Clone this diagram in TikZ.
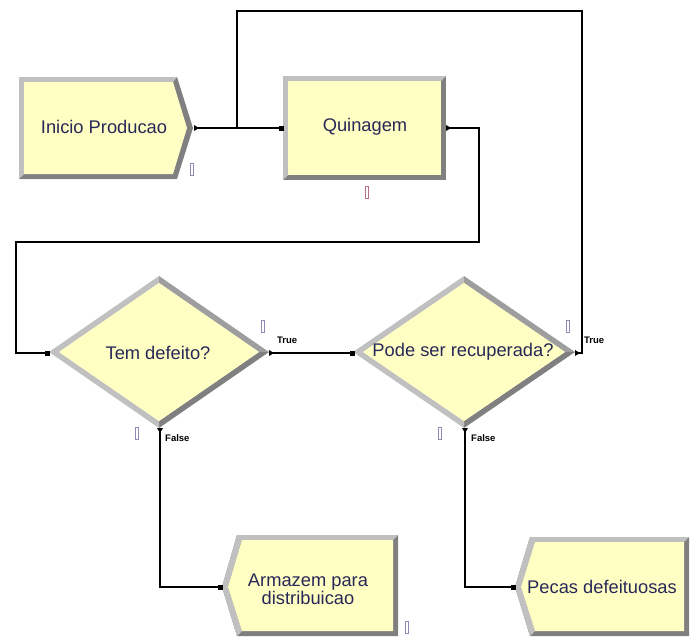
\documentclass[tikz,border=0pt]{standalone}
\usepackage{fontspec}
\setmainfont{Liberation Sans}
\begin{document}
\begin{tikzpicture}[x=1pt,y=-1pt]
\definecolor{modfill}{RGB}{255,255,196}
\definecolor{bevlight}{RGB}{192,192,192}
\definecolor{bevmid}{RGB}{158,158,158}
\definecolor{bevdark}{RGB}{128,128,128}
\definecolor{labelink}{RGB}{40,40,88}
\definecolor{cntblue}{RGB}{140,140,185}
\definecolor{cntred}{RGB}{185,110,125}
\tikzset{
  modtext/.style={text=labelink, font=\fontsize{18.3}{15.5}\selectfont, inner sep=0pt, align=center},
  brtext/.style={font=\bfseries\fontsize{9.5}{10}\selectfont, inner sep=0pt, anchor=west},
  conn/.style={draw=black, line width=1.3pt},
  entrypt/.style={rectangle, fill=black, minimum size=5pt, inner sep=0pt},
  counter/.style={rectangle, draw=#1, line width=0.9pt, fill=white, minimum width=3pt, minimum height=12pt, inner sep=0pt},
}
\useasboundingbox (0,0) rectangle (694,637);

% ---------- Create module: Inicio Producao ----------
\fill[bevdark] (19,77) -- (177,77) -- (193,128) -- (177,179) -- (19,179) -- cycle;
\fill[bevlight] (19,179) -- (19,77) -- (177,77) -- (173,82) -- (24,82) -- (24,174) -- cycle;
\fill[modfill] (24,82) -- (173,82) -- (187,128) -- (173,174) -- (24,174) -- cycle;
\node[modtext] (inicio) at (104,127) {Inicio Producao};
\node[counter=cntblue] (cntInicio) at (192,169) {};

% ---------- Process module: Quinagem ----------
\fill[bevdark] (283,76) rectangle (446,180);
\fill[bevlight] (283,180) -- (283,76) -- (446,76) -- (441,81) -- (288,81) -- (288,175) -- cycle;
\fill[modfill] (288,81) rectangle (441,175);
\node[modtext] (quinagem) at (365,127) {Quinagem};
\node[counter=cntred] (cntQuinagem) at (367,192) {};

% ---------- Decide modules ----------
\newcommand\decideshape[4]{% cx, cy, half width, half height
  \fill[bevlight] (#1-#3,#2) -- (#1,#2-#4) -- (#1,#2-#4+7) -- (#1-#3+10,#2) -- cycle;
  \fill[bevmid]   (#1,#2-#4) -- (#1+#3,#2) -- (#1+#3-10,#2) -- (#1,#2-#4+7) -- cycle;
  \fill[bevdark]  (#1+#3,#2) -- (#1,#2+#4) -- (#1,#2+#4-7) -- (#1+#3-10,#2) -- cycle;
  \fill[bevlight] (#1,#2+#4) -- (#1-#3,#2) -- (#1-#3+10,#2) -- (#1,#2+#4-7) -- cycle;
  \fill[modfill]  (#1-#3+10,#2) -- (#1,#2-#4+7) -- (#1+#3-10,#2) -- (#1,#2+#4-7) -- cycle;
}
\decideshape{159}{352}{110}{76}
\node[modtext] (temdefeito) at (158,353) {Tem defeito?};
\node[counter=cntblue] (cntTemT) at (263,326) {};
\node[counter=cntblue] (cntTemF) at (137,433) {};

\decideshape{464}{352}{111}{76}
\node[modtext] (pode) at (463,352) {Pode ser recuperada?};
\node[counter=cntblue] (cntPodeT) at (568,326) {};
\node[counter=cntblue] (cntPodeF) at (440,433) {};

% ---------- Dispose modules ----------
\fill[bevdark] (237,535) -- (398,535) -- (398,636) -- (237,636) -- (222,587) -- cycle;
\fill[bevlight] (237,636) -- (222,587) -- (237,535) -- (398,535) -- (393,540) -- (242,540) -- (228,587) -- (242,631) -- cycle;
\fill[modfill] (242,540) -- (393,540) -- (393,631) -- (242,631) -- (228,587) -- cycle;
\node[modtext] (armazem) at (308,589) {Armazem para\\distribuicao};
\node[counter=cntblue] (cntArmazem) at (407,627) {};

\fill[bevdark] (530,537) -- (689,537) -- (689,636) -- (530,636) -- (515,587) -- cycle;
\fill[bevlight] (530,636) -- (515,587) -- (530,537) -- (689,537) -- (684,542) -- (535,542) -- (521,587) -- (535,631) -- cycle;
\fill[modfill] (535,542) -- (684,542) -- (684,631) -- (535,631) -- (521,587) -- cycle;
\node[modtext] (pecas) at (602,587) {Pecas defeituosas};

% ---------- Ports ----------
\coordinate (inicioOut) at (196,128);
\coordinate (quinIn) at (281,128);
\coordinate (quinOut) at (448,128);
\coordinate (temIn) at (47,353);
\coordinate (temTrue) at (271,353);
\coordinate (temFalse) at (160,430);
\coordinate (podeIn) at (352,353);
\coordinate (podeTrue) at (577,353);
\coordinate (podeFalse) at (465,430);
\coordinate (armIn) at (220,587);
\coordinate (pecIn) at (513,587);
\coordinate (split) at (237,128);

% ---------- Connectors ----------
\draw[conn] (inicioOut) -- (quinIn);
\draw[conn] (quinOut) -- (479,128) -- (479,242) -- (16,242) -- (16,353) -- (temIn);
\draw[conn] (temTrue) -- (podeIn);
\draw[conn] (podeTrue) -- (582,353) -- (582,11) -- (237,11) -- (split);
\draw[conn] (temFalse) |- (armIn);
\draw[conn] (podeFalse) |- (pecIn);

% entry points
\node[entrypt] (pIn1) at (quinIn) {};
\node[entrypt] (pIn2) at (temIn) {};
\node[entrypt] (pIn3) at (podeIn) {};
\node[entrypt] (pIn4) at (armIn) {};
\node[entrypt] (pIn5) at (pecIn) {};
% exit points
\fill (inicioOut) ++(-2,-3) -- ++(5,3) -- ++(-5,3) -- cycle;
\fill (quinOut) ++(-2,-3) -- ++(5,3) -- ++(-5,3) -- cycle;
\fill (temTrue) ++(-2,-3) -- ++(5,3) -- ++(-5,3) -- cycle;
\fill (podeTrue) ++(-2,-3) -- ++(5,3) -- ++(-5,3) -- cycle;
\fill (temFalse) ++(-3,-2) -- ++(6,0) -- ++(-3,5) -- cycle;
\fill (podeFalse) ++(-3,-2) -- ++(6,0) -- ++(-3,5) -- cycle;

% branch labels
\node[brtext] (lblTemT) at (277,340) {True};
\node[brtext] (lblTemF) at (165,438) {False};
\node[brtext] (lblPodeT) at (584,340) {True};
\node[brtext] (lblPodeF) at (471,438) {False};
\end{tikzpicture}
\end{document}
